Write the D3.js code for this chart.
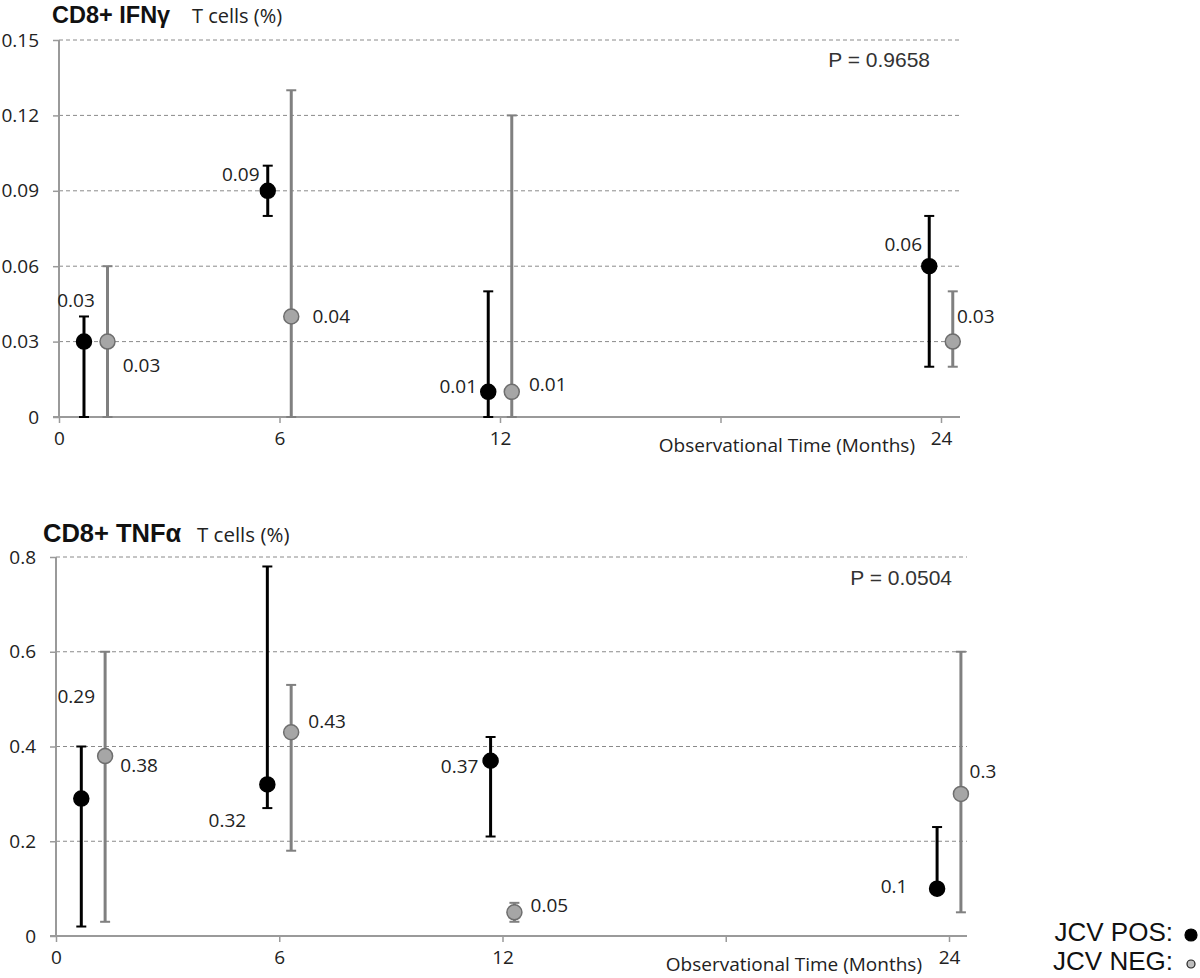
<!DOCTYPE html>
<html>
<head>
<meta charset="utf-8">
<script src="https://cdn.jsdelivr.net/npm/d3@7"></script>
<style>
    body { margin: 0; background: #fff; }
    svg { display: block; }
    .num { font-family: "Open Sans", sans-serif; font-size: 19px; fill: #222; }
    .arial { font-family: "Liberation Sans", Arial, sans-serif; }
</style>
</head>
<body>
<svg id="chart" width="1200" height="978"></svg>
<script>
(function () {
    'use strict';

    // time points (months); POS/NEG markers are nudged either side of these
    const months = [1, 6, 12, 24];
    const xTickValues = [0, 6, 12, 18, 24];

    // CD8+ IFNγ
    const ifnPos = [0.03, 0.09, 0.01, 0.06];
    const ifnPosLow = [0, 0.08, 0, 0.02];
    const ifnPosHigh = [0.04, 0.10, 0.05, 0.08];
    const ifnNeg = [0.03, 0.04, 0.01, 0.03];
    const ifnNegLow = [0, 0, 0, 0.02];
    const ifnNegHigh = [0.06, 0.13, 0.12, 0.05];
    const ifnYTicks = [0, 0.03, 0.06, 0.09, 0.12, 0.15];
    const ifnP = 'P = 0.9658';

    // CD8+ TNFα
    const tnfPos = [0.29, 0.32, 0.37, 0.10];
    const tnfPosLow = [0.02, 0.27, 0.21, 0.10];
    const tnfPosHigh = [0.40, 0.78, 0.42, 0.23];
    const tnfNeg = [0.38, 0.43, 0.05, 0.30];
    const tnfNegLow = [0.03, 0.18, 0.03, 0.05];
    const tnfNegHigh = [0.60, 0.53, 0.07, 0.60];
    const tnfYTicks = [0, 0.2, 0.4, 0.6, 0.8];
    const tnfP = 'P = 0.0504';

    const svg = d3.select('#chart');
    const offset = 0.32;

    const panels = [
        {
            title: 'CD8+ IFNγ', titleX: 52, titleY: 23, titleSize: 23.5, subX: 192, subSize: 20,
            left: 59, right: 941, end: 960, top: 40, bottom: 417,
            domain: [0, 0.15], ticks: ifnYTicks, fmt: d3.format('.2f'),
            p: ifnP, pX: 930, pY: 67, axisTitleX: 915,
            pos: { v: ifnPos, lo: ifnPosLow, hi: ifnPosHigh,
                lab: [[-8, -42], [-27, -17], [-30, -6], [-26, -22]] },
            neg: { v: ifnNeg, lo: ifnNegLow, hi: ifnNegHigh,
                lab: [[34, 23], [40, 0], [36, -8], [23, -26]] }
        },
        {
            title: 'CD8+ TNFα', titleX: 43, titleY: 542, titleSize: 25.5, subX: 197, subSize: 20.5,
            left: 56, right: 949, end: 967, top: 557, bottom: 936,
            domain: [0, 0.8], ticks: tnfYTicks, fmt: d3.format('.1f'),
            p: tnfP, pX: 952, pY: 585, axisTitleX: 922,
            pos: { v: tnfPos, lo: tnfPosLow, hi: tnfPosHigh,
                lab: [[-5, -103], [-40, 36], [-31, 5], [-43, -3]] },
            neg: { v: tnfNeg, lo: tnfNegLow, hi: tnfNegHigh,
                lab: [[34, 9], [36, -11], [35, -7], [22, -23]] }
        }
    ];

    panels.forEach(drawPanel);
    drawLegend();

    function drawPanel(cfg) {
        const x = d3.scaleLinear().domain([0, 24]).range([cfg.left, cfg.right]);
        const y = d3.scaleLinear().domain(cfg.domain).range([cfg.bottom, cfg.top]);
        const g = svg.append('g');

        // title
        g.append('text')
            .attr('class', 'arial')
            .attr('x', cfg.titleX)
            .attr('y', cfg.titleY)
            .attr('font-weight', 'bold')
            .attr('font-size', cfg.titleSize)
            .attr('fill', '#111')
            .text(cfg.title);
        g.append('text')
            .attr('x', cfg.subX)
            .attr('y', cfg.titleY)
            .attr('font-family', '"Open Sans", sans-serif')
            .attr('font-size', cfg.subSize)
            .attr('fill', '#222')
            .text('T cells (%)');

        // gridlines
        g.append('g')
            .selectAll('line')
            .data(cfg.ticks.filter(d => d > 0))
            .join('line')
            .attr('x1', cfg.left)
            .attr('x2', cfg.end)
            .attr('y1', d => y(d))
            .attr('y2', d => y(d))
            .attr('stroke', '#8a8a8a')
            .attr('stroke-width', 1)
            .attr('stroke-dasharray', '4,3');

        // y axis
        const yAxis = d3.axisLeft(y)
            .tickValues(cfg.ticks)
            .tickFormat(d => d === 0 ? '0' : cfg.fmt(d))
            .tickSize(6)
            .tickPadding(14);
        const ya = g.append('g')
            .attr('transform', `translate(${cfg.left}, 0)`)
            .call(yAxis);
        ya.select('.domain').remove();
        ya.append('line')
            .attr('x1', 0).attr('x2', 0)
            .attr('y1', cfg.top).attr('y2', cfg.bottom)
            .attr('stroke', '#9a9a9a').attr('stroke-width', 2);
        ya.selectAll('.tick line').attr('stroke', '#9a9a9a').attr('stroke-width', 1.5);
        ya.selectAll('.tick text').attr('class', 'num').attr('fill', '#222');

        // x axis
        const xAxis = d3.axisBottom(x)
            .tickValues(xTickValues)
            .tickFormat(d => d === 18 ? '' : d)
            .tickSize(6)
            .tickPadding(9);
        const xa = g.append('g')
            .attr('transform', `translate(0, ${cfg.bottom})`)
            .call(xAxis);
        xa.select('.domain').remove();
        xa.append('line')
            .attr('x1', cfg.left - 6).attr('x2', cfg.end)
            .attr('y1', 0).attr('y2', 0)
            .attr('stroke', '#9a9a9a').attr('stroke-width', 2);
        xa.selectAll('.tick line').attr('stroke', '#9a9a9a').attr('stroke-width', 1.5);
        xa.selectAll('.tick text').attr('class', 'num').attr('fill', '#222');

        g.append('text')
            .attr('class', 'num')
            .attr('x', cfg.axisTitleX)
            .attr('y', cfg.bottom + 35)
            .attr('text-anchor', 'end')
            .text('Observational Time (Months)');

        // P value
        g.append('text')
            .attr('class', 'arial')
            .attr('x', cfg.pX)
            .attr('y', cfg.pY)
            .attr('text-anchor', 'end')
            .attr('font-size', 21)
            .attr('fill', '#333')
            .text(cfg.p);

        drawSeries(g, x, y, cfg.pos, -offset, '#000', '#000', '#000');
        drawSeries(g, x, y, cfg.neg, offset, '#808080', '#a6a6a6', '#6e6e6e');
    }

    function drawSeries(g, x, y, s, dx, barColor, fill, stroke) {
        const rows = months.map((m, i) => ({
            m: m + dx, v: s.v[i], lo: s.lo[i], hi: s.hi[i], lab: s.lab[i]
        }));
        const sg = g.append('g');

        sg.selectAll('.bar')
            .data(rows)
            .join('line')
            .attr('x1', d => x(d.m)).attr('x2', d => x(d.m))
            .attr('y1', d => y(d.lo)).attr('y2', d => y(d.hi))
            .attr('stroke', barColor).attr('stroke-width', 3);

        const caps = rows.flatMap(d => [{ m: d.m, v: d.hi }, { m: d.m, v: d.lo }]);
        sg.selectAll('.cap')
            .data(caps)
            .join('line')
            .attr('x1', d => x(d.m) - 5).attr('x2', d => x(d.m) + 5)
            .attr('y1', d => y(d.v)).attr('y2', d => y(d.v))
            .attr('stroke', barColor).attr('stroke-width', 2);

        sg.selectAll('circle')
            .data(rows)
            .join('circle')
            .attr('cx', d => x(d.m))
            .attr('cy', d => y(d.v))
            .attr('r', 7.5)
            .attr('fill', fill)
            .attr('stroke', stroke)
            .attr('stroke-width', 1.5);

        sg.selectAll('.lab')
            .data(rows)
            .join('text')
            .attr('class', 'num')
            .attr('x', d => x(d.m) + d.lab[0])
            .attr('y', d => y(d.v) + d.lab[1])
            .attr('text-anchor', 'middle')
            .attr('dominant-baseline', 'central')
            .text(d => d.v);
    }

    function drawLegend() {
        const lg = svg.append('g').attr('class', 'arial');
        const items = [
            { label: 'JCV POS:', y: 932, fill: '#000', stroke: '#000', r: 6 },
            { label: 'JCV NEG:', y: 961, fill: '#bdbdbd', stroke: '#222', r: 4 }
        ];
        items.forEach(it => {
            lg.append('text')
                .attr('x', 1173)
                .attr('y', it.y)
                .attr('text-anchor', 'end')
                .attr('dominant-baseline', 'central')
                .attr('font-size', 26)
                .attr('fill', '#111')
                .text(it.label);
            lg.append('circle')
                .attr('cx', 1191)
                .attr('cy', it.y + 3)
                .attr('r', it.r)
                .attr('fill', it.fill)
                .attr('stroke', it.stroke)
                .attr('stroke-width', 1.2);
        });
    }
})();
</script>
</body>
</html>
